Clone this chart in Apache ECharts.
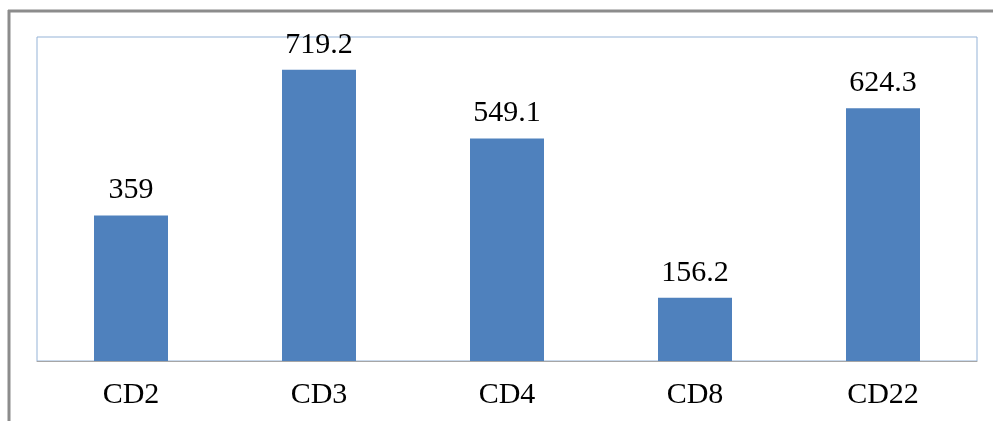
<!DOCTYPE html>
<html><head><meta charset="utf-8">
<script src="https://cdn.jsdelivr.net/npm/echarts@6/dist/echarts.min.js"></script>
<style>html,body{margin:0;padding:0;background:#fff}#c{width:993px;height:421px}</style>
</head><body><div id="c"></div>
<script>
const categories = ['CD2', 'CD3', 'CD4', 'CD8', 'CD22'];
const values = [359, 719.2, 549.1, 156.2, 624.3];
const axisMax = 800;

const chart = echarts.init(document.getElementById('c'), null, {renderer: 'canvas'});
chart.setOption({
  animation: false,
  backgroundColor: '#ffffff',
  grid: {left: 37, top: 37, right: 16, bottom: 60, show: true, borderColor: '#95B3D7', borderWidth: 1, containLabel: false},
  xAxis: {
    type: 'category', data: categories,
    axisLine: {lineStyle: {color: '#A6A6A6', width: 1}},
    axisTick: {show: false},
    axisLabel: {fontFamily: 'Liberation Serif', fontSize: 30, color: '#000', margin: 19}
  },
  yAxis: {type: 'value', min: 0, max: axisMax, show: false, splitLine: {show: false}},
  series: [{
    type: 'bar', data: values, barWidth: 74,
    itemStyle: {color: '#4F81BD'},
    label: {show: true, position: 'top', distance: 10, fontFamily: 'Liberation Serif', fontSize: 30, color: '#000'}
  }],
  graphic: [
    {type: 'line', shape: {x1: 8, y1: 11, x2: 993, y2: 11}, style: {stroke: '#8C8C8C', lineWidth: 3}, silent: true},
    {type: 'line', shape: {x1: 9, y1: 10, x2: 9, y2: 421}, style: {stroke: '#8C8C8C', lineWidth: 3}, silent: true}
  ]
});
</script></body></html>
